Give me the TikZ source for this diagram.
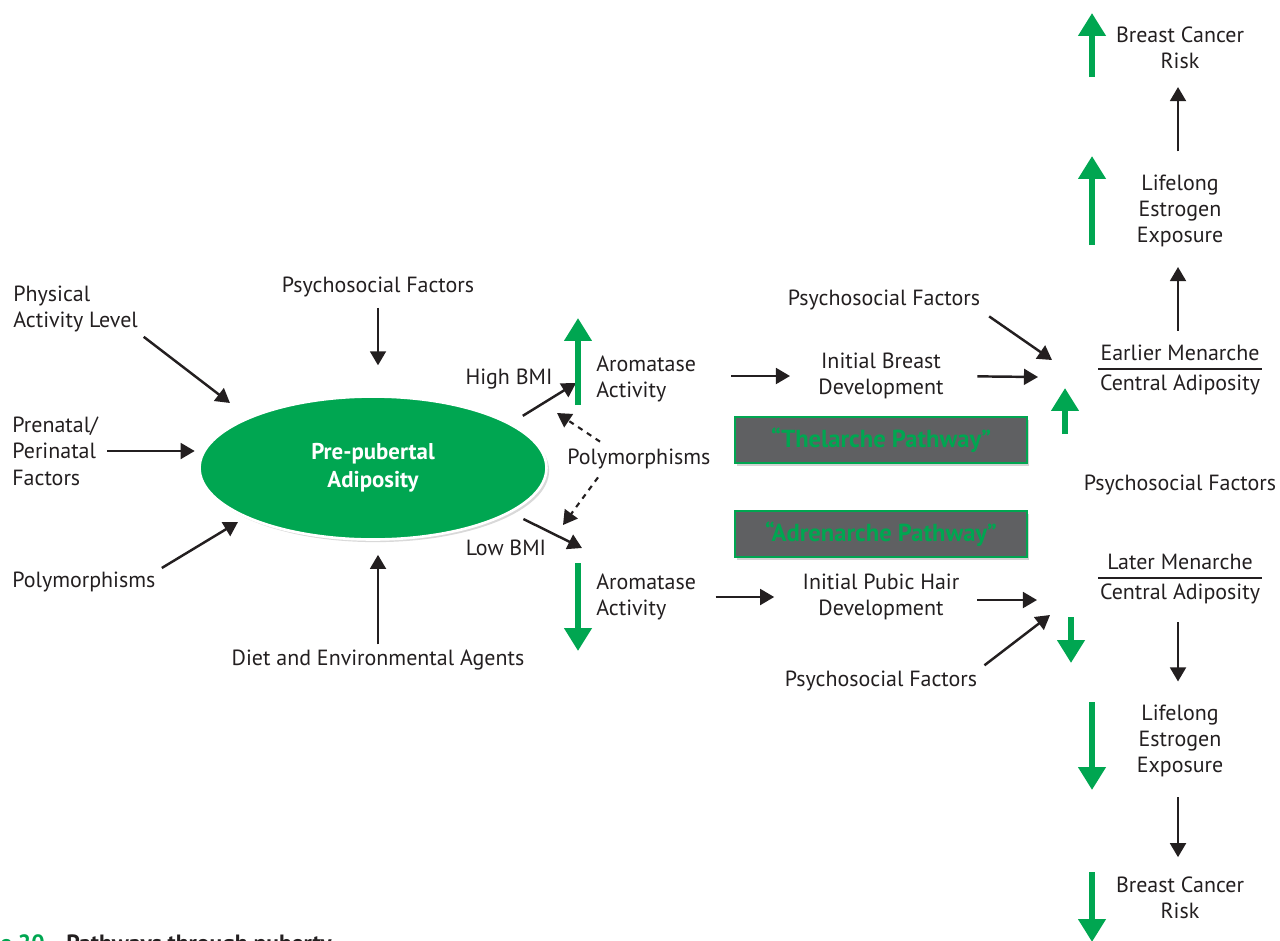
\documentclass[tikz,border=0pt]{standalone}
\usepackage{fontspec}
\setmainfont{PT Sans}
\usetikzlibrary{arrows.meta,shapes.geometric,shadows}
\definecolor{pathGreen}{RGB}{0,166,81}
\definecolor{boxGray}{RGB}{95,96,98}
\definecolor{inkBlack}{RGB}{35,31,32}
\newcommand{\greenArrow}[2]{%
  \draw[greenStyle] #1 -- #2;
}

\begin{document}
\begin{tikzpicture}[%
  x=0.02cm,y=-0.02cm,
  lineStyle/.style={-{Triangle[length=8pt,width=9pt]},line width=1.4pt,inkBlack},
  dashStyle/.style={lineStyle,dashed,line width=1.2pt},
  greenStyle/.style={-{Triangle[length=13pt,width=15pt]},line width=3.4pt,pathGreen},
  label/.style={font=\fontsize{12.5}{15}\selectfont,text=inkBlack,inner sep=0pt,align=center},
  leftLabel/.style={label,align=left,anchor=west},
  pathBox/.style={draw=pathGreen,line width=1.5pt,fill=boxGray,text=pathGreen,
    font=\fontsize{14}{16}\selectfont\bfseries,minimum width=5.84cm,minimum height=0.92cm,
    drop shadow={shadow xshift=1pt,shadow yshift=-1.5pt,opacity=0.35}}
]
%
% Frame of the picture.
\useasboundingbox (0,0) rectangle (1280,940);
%
% The central ellipse and what feeds it.
\node[ellipse,fill=pathGreen,draw=white,line width=1.5pt,minimum width=6.94cm,
  minimum height=2.86cm,inner sep=0pt,
  drop shadow={shadow xshift=1.5pt,shadow yshift=-1.5pt,opacity=0.3},
  text=white,font=\fontsize{13}{16}\selectfont\bfseries,align=center]
  (adiposity) at (373,468) {Pre-pubertal\\Adiposity};
\node[leftLabel] (physAct) at (13,309) {Physical\\Activity Level};
\node[leftLabel] (prenatal) at (12,451) {Prenatal/\\Perinatal\\Factors};
\node[leftLabel] (polyLeft) at (12,582) {Polymorphisms};
\node[label] (psyTop) at (378,287) {Psychosocial Factors};
\node[label] (diet) at (378,660) {Diet and Environmental Agents};
%
\coordinate (physTip) at (230,403);
\coordinate (polyTip) at (238,522);
\draw[lineStyle,shorten <=4pt] (physAct.south east) -- (physTip);
\draw[lineStyle,shorten <=5pt,shorten >=2pt] (prenatal.east) -- (prenatal.east -| adiposity.west);
\draw[lineStyle,shorten <=4pt] (polyLeft.north east) -- (polyTip);
\draw[lineStyle,shorten <=6pt,shorten >=17pt] (psyTop.south) -- (psyTop.south |- adiposity.north);
\draw[lineStyle,shorten <=3pt,shorten >=8pt] (diet.north) -- (diet.north |- adiposity.south);
%
% High and low BMI branches.
\node[label] (highBMI) at (509,379) {High BMI};
\node[label] (lowBMI) at (506,548) {Low BMI};
\node[leftLabel] (aromUp) at (596,379) {Aromatase\\Activity};
\node[leftLabel] (aromDown) at (596,597) {Aromatase\\Activity};
\node[leftLabel] (polyMid) at (567,459) {Polymorphisms};
\coordinate (highTip) at (576,383);
\coordinate (lowTip) at (582,548);
\coordinate (polyUpTip) at (557,413);
\coordinate (polyDownTip) at (563,525);
\draw[lineStyle,shorten <=8pt] (adiposity.18) -- (highTip);
\draw[lineStyle,shorten <=8pt] (adiposity.-18) -- (lowTip);
\draw[dashStyle] ([shift={(33,-7)}]polyMid.north west) -- (polyUpTip);
\draw[dashStyle] ([shift={(31,8)}]polyMid.south west) -- (polyDownTip);
\greenArrow{(578,405)}{(578,318)}
\greenArrow{(578,563)}{(578,651)}
%
% Thelarche and adrenarche pathways.
\node[label] (breastDev) at (881,376) {Initial Breast\\Development};
\node[label] (pubicDev) at (881,597) {Initial Pubic Hair\\Development};
\node[label] (psyBreast) at (884,300) {Psychosocial Factors};
\node[label] (psyPubic) at (881,681) {Psychosocial Factors};
\node[pathBox] (thelarche) at (881,440) {“Thelarche Pathway”};
\node[pathBox] (adrenarche) at (881,534) {“Adrenarche Pathway”};
\coordinate (earlyTip) at (1038,377);
\coordinate (earlyDiag) at (1052,360);
\coordinate (lateTip) at (1037,600);
\coordinate (lateDiag) at (1050,615);
\draw[lineStyle,shorten <=20pt,shorten >=16pt] (aromUp.east |- breastDev.west) -- (breastDev.west);
\draw[lineStyle,shorten <=19pt] (breastDev.east) -- (earlyTip);
\draw[lineStyle,shorten <=6pt] (psyBreast.south east) -- (earlyDiag);
\draw[lineStyle,shorten <=11pt,shorten >=16pt] (aromDown.east |- pubicDev.west) -- (pubicDev.west);
\draw[lineStyle,shorten <=10pt] (pubicDev.east |- lateTip) -- (lateTip);
\draw[lineStyle,shorten <=5pt] (psyPubic.north east) -- (lateDiag);
\greenArrow{(1065,434)}{(1065,388)}
\greenArrow{(1071,617)}{(1071,663)}
%
% Right column: menarche, estrogen exposure, cancer risk.
\node[label] (earlyMen) at (1180,353) {Earlier Menarche};
\node[label] (earlyAdip) at (1180,385) {Central Adiposity};
\node[label] (psyRight) at (1180,485) {Psychosocial Factors};
\node[label] (lateMen) at (1180,562) {Later Menarche};
\node[label] (lateAdip) at (1180,594) {Central Adiposity};
\node[label] (estroUp) at (1180,211) {Lifelong\\Estrogen\\Exposure};
\node[label] (riskUp) at (1180,48) {Breast Cancer\\Risk};
\node[label] (estroDown) at (1180,741) {Lifelong\\Estrogen\\Exposure};
\node[label] (riskDown) at (1180,898) {Breast Cancer\\Risk};
\draw[line width=1.1pt,inkBlack] (1098,369) -- (1262,369);
\draw[line width=1.1pt,inkBlack] (1098,578) -- (1262,578);
\draw[lineStyle,shorten <=8pt,shorten >=11pt] (earlyMen.north -| 1178,0) -- (estroUp.south -| 1178,0);
\draw[lineStyle,shorten <=13pt,shorten >=10pt] (estroUp.north -| 1178,0) -- (riskUp.south -| 1178,0);
\draw[lineStyle,shorten <=10pt,shorten >=13pt] (lateAdip.south -| 1178,0) -- (estroDown.north -| 1178,0);
\draw[lineStyle,shorten <=11pt,shorten >=11pt] (estroDown.south -| 1178,0) -- (riskDown.north -| 1178,0);
\greenArrow{(1092,245)}{(1092,156)}
\greenArrow{(1092,77)}{(1092,13)}
\greenArrow{(1092,702)}{(1092,790)}
\greenArrow{(1092,872)}{(1092,942)}
%
% Caption, cut off at the lower edge.
\node[anchor=base east,inner sep=0pt,font=\fontsize{13.4}{15}\selectfont\bfseries,text=pathGreen]
  (figNum) at (45,951) {Figure 20};
\node[anchor=base west,inner sep=0pt,font=\fontsize{13.4}{15}\selectfont\bfseries,text=inkBlack]
  (figTitle) at (66,951) {Pathways through puberty};
\end{tikzpicture}
\end{document}
